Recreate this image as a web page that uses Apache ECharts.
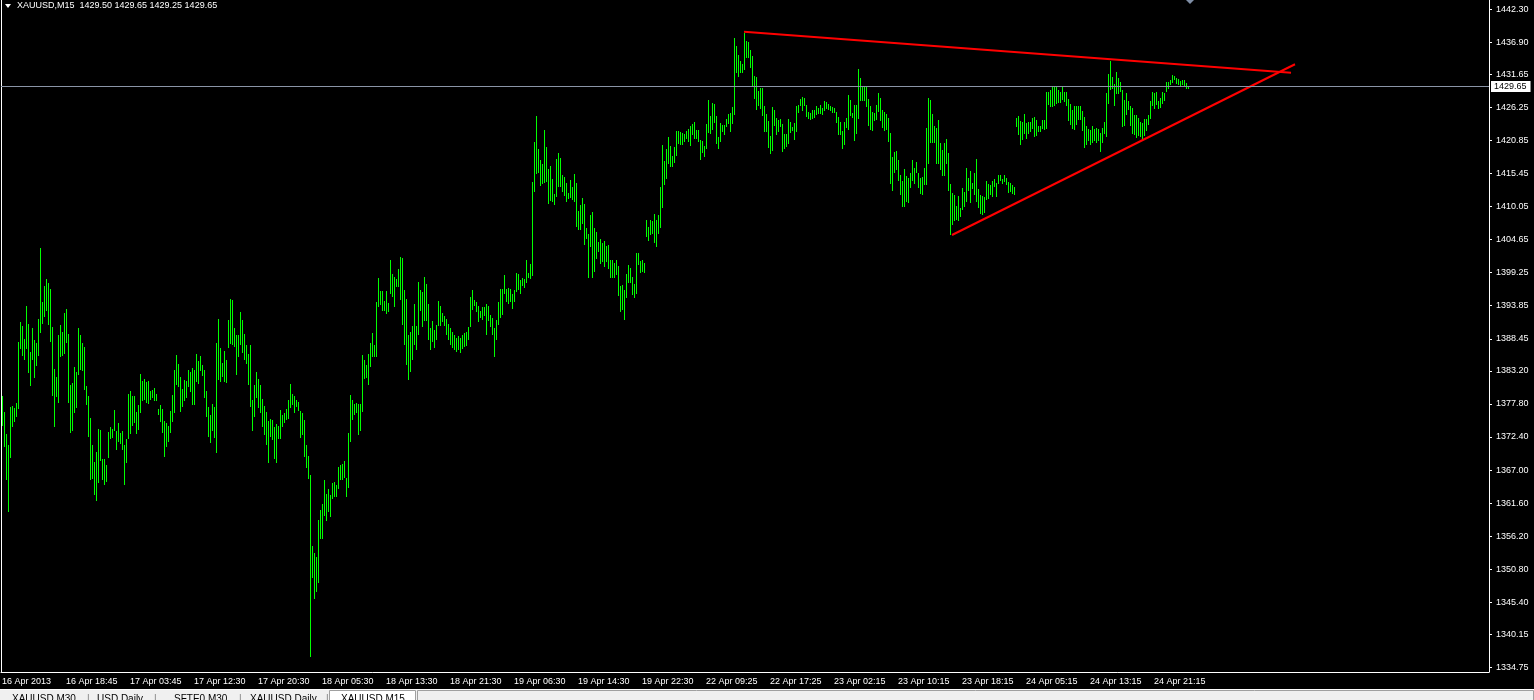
<!DOCTYPE html>
<html><head><meta charset="utf-8">
<script src="https://cdn.jsdelivr.net/npm/echarts@6/dist/echarts.min.js"></script>
<style>html,body{margin:0;padding:0;background:#000;overflow:hidden}#c{width:1534px;height:700px}</style>
</head><body><div id="c"></div>
<script>
const symbolTitle = 'XAUUSD,M15';
const lastBarOHLC = [1429.50, 1429.65, 1429.25, 1429.65];
const lastPrice = 1429.65;
const yMin = 1334.0, yMax = 1443.8;
const timeLabels = ['16 Apr 2013','16 Apr 18:45','17 Apr 03:45','17 Apr 12:30','17 Apr 20:30','18 Apr 05:30','18 Apr 13:30','18 Apr 21:30','19 Apr 06:30','19 Apr 14:30','19 Apr 22:30','22 Apr 09:25','22 Apr 17:25','23 Apr 02:15','23 Apr 10:15','23 Apr 18:15','24 Apr 05:15','24 Apr 13:15','24 Apr 21:15'];
const barsPerLabel = 32;
const totalSlots = 744;
const yTicks = [1442.30,1436.90,1431.65,1426.25,1420.85,1415.45,1410.05,1404.65,1399.25,1393.85,1388.45,1383.20,1377.80,1372.40,1367.00,1361.60,1356.20,1350.80,1345.40,1340.15,1334.75];
const highs = [
1379.1,1376.5,1372.9,1371.1,1377.3,1377.5,1377.1,1378.0,1387.9,1391.2,
1390.5,1388.4,1393.8,1390.9,1386.3,1390.2,1388.2,1387.8,1391.7,1403.3,
1394.5,1397.1,1398.2,1397.6,1396.6,1390.4,1383.5,1382.2,1389.1,1390.7,
1389.5,1392.7,1393.3,1389.2,1380.9,1381.2,1383.8,1383.0,1390.2,1389.1,
1387.8,1387.1,1380.7,1379.1,1375.5,1371.1,1368.3,1369.9,1373.7,1373.5,
1368.8,1368.8,1367.8,1373.2,1374.0,1373.7,1376.8,1373.4,1374.7,1373.0,
1373.4,1371.1,1372.1,1379.4,1379.9,1379.1,1379.1,1376.5,1377.6,1382.7,
1381.5,1381.9,1381.4,1381.5,1379.9,1380.1,1380.4,1379.4,1377.0,1377.6,
1377.0,1375.0,1374.7,1374.2,1376.6,1379.3,1383.3,1385.8,1384.3,1382.2,
1380.2,1381.7,1381.5,1383.3,1383.0,1383.7,1383.3,1386.0,1384.8,1385.6,
1384.2,1383.3,1379.9,1377.3,1376.0,1377.8,1377.3,1387.8,1391.7,1387.0,
1384.5,1386.4,1385.0,1391.5,1395.0,1394.8,1390.2,1389.1,1389.1,1392.8,
1391.5,1389.2,1387.4,1386.0,1387.4,1378.4,1380.9,1383.0,1381.9,1380.9,
1378.6,1377.5,1376.5,1375.0,1375.3,1375.2,1374.1,1374.6,1374.2,1376.8,
1376.0,1376.4,1377.0,1378.4,1381.1,1379.4,1379.1,1378.4,1378.1,1376.6,
1376.3,1375.1,1371.1,1369.3,1366.2,1354.6,1353.4,1352.8,1358.8,1360.5,
1361.4,1365.4,1363.1,1363.9,1362.9,1364.9,1365.0,1364.5,1367.5,1367.8,
1368.0,1368.5,1365.7,1373.0,1379.3,1378.4,1377.8,1378.0,1377.8,1377.8,
1385.8,1385.0,1384.2,1386.0,1387.8,1389.4,1387.4,1394.5,1398.4,1396.2,
1396.2,1394.6,1396.2,1394.3,1401.3,1399.0,1398.5,1398.2,1399.8,
1401.8,1401.6,1396.4,1394.9,1389.1,1389.6,1390.5,1394.1,1390.5,1397.7,
1396.4,1396.1,1398.5,1397.4,1394.1,1390.2,1391.3,1389.9,1390.7,1394.6,
1393.8,1392.7,1392.2,1391.7,1390.9,1390.2,1389.5,1389.1,1388.6,1388.9,
1388.6,1389.1,1389.4,1389.5,1390.4,1395.3,1396.4,1394.8,1394.5,1393.8,
1393.0,1393.6,1393.6,1394.1,1393.8,1392.3,1391.8,1390.2,1391.5,1394.5,
1396.6,1396.6,1398.9,1396.6,1396.7,1396.6,1395.8,1396.4,1399.2,1399.0,
1398.0,1398.4,1398.2,1401.3,1399.2,1400.7,1414.1,1420.6,1424.8,1419.5,
1417.7,1417.0,1422.6,1419.8,1416.2,1416.7,1414.6,1412.1,1417.8,1418.8,
1418.0,1415.2,1414.9,1413.9,1412.3,1414.4,1413.2,1415.4,1413.9,1409.3,
1410.3,1411.4,1410.5,1406.5,1405.6,1408.7,1409.2,1406.5,1405.9,1404.3,
1404.7,1404.1,1404.4,1403.6,1403.8,1401.3,1401.3,1400.8,1401.3,1400.3,
1397.1,1397.2,1396.4,1399.0,1400.5,1400.0,1398.5,1397.4,1402.5,1402.5,
1401.2,1401.3,1400.8,1407.9,1406.7,1407.9,1407.7,1408.8,1407.9,1408.7,
1413.2,1420.1,1417.5,1419.5,1421.4,1419.9,1418.3,1419.8,1422.4,1422.4,
1422.2,1422.1,1421.9,1422.4,1422.7,1423.2,1423.5,1423.9,1422.6,1422.6,
1420.9,1420.8,1419.9,1423.5,1427.5,1424.8,1427.0,1426.8,1424.8,1421.4,
1423.7,1423.4,1423.4,1424.4,1425.2,1425.3,1426.3,1437.6,1436.3,1434.8,
1433.8,1433.3,1438.4,1437.1,1436.9,1435.6,1434.6,1431.4,1431.2,1428.9,
1429.4,1429.4,1426.5,1425.2,1424.0,1421.6,1426.3,1425.8,1424.5,1424.2,
1424.4,1423.5,1421.9,1421.9,1424.4,1423.9,1423.0,1423.7,1426.5,1426.6,
1427.6,1428.0,1427.8,1426.6,1425.5,1425.3,1425.8,1425.8,1426.5,1426.2,
1426.6,1426.2,1427.3,1427.1,1426.8,1426.5,1426.3,1426.2,1425.5,1424.7,
1423.9,1422.4,1423.9,1424.5,1428.3,1427.5,1425.3,1426.6,1426.6,1432.5,
1431.1,1429.7,1429.6,1429.7,1427.6,1426.5,1425.5,1425.3,1426.6,1428.6,
1427.8,1425.8,1425.5,1425.2,1424.5,1422.1,1418.1,1419.0,1419.1,1417.7,
1415.2,1414.2,1416.2,1415.0,1414.7,1415.5,1417.7,1416.3,1417.3,1415.5,
1414.7,1414.9,1416.3,1422.9,1427.8,1427.5,1425.2,1423.2,1422.9,1424.2,
1420.4,1419.3,1420.4,1421.1,1418.8,1413.7,1412.3,1411.9,1410.1,1411.8,
1409.8,1413.1,1412.4,1416.3,1414.7,1415.9,1413.9,1415.5,1417.8,1412.9,
1411.9,1411.8,1411.6,1414.2,1413.7,1413.6,1414.2,1414.6,1413.9,1415.2,
1415.2,1414.6,1415.2,1414.7,1414.1,1413.9,1413.6,1413.2,1424.5,1424.8,
1424.0,1423.9,1425.2,1423.7,1423.9,1423.9,1424.5,1424.7,1424.2,1423.2,
1423.2,1424.2,1424.2,1428.8,1428.8,1429.1,1429.6,1429.7,1429.6,1429.1,
1428.8,1429.7,1428.8,1428.8,1427.6,1426.8,1425.8,1426.5,1426.5,1426.5,
1426.5,1425.7,1424.7,1423.2,1422.7,1422.6,1423.2,1422.7,1422.9,1422.7,
1422.1,1422.9,1423.9,1428.6,1431.7,1433.8,1431.2,1430.1,1432.0,1431.1,
1430.4,1429.1,1427.5,1428.6,1427.3,1426.5,1426.2,1425.0,1425.0,1424.5,
1423.9,1423.7,1424.4,1424.4,1425.0,1427.3,1428.8,1428.6,1428.8,1427.3,
1427.8,1428.8,1428.6,1430.4,1430.4,1430.7,1431.5,1431.4,1431.1,1430.9,
1430.6,1430.7,1430.7,1430.2,1429.65
];
const lows = [
1374.2,1370.8,1365.3,1360.2,1369.0,1374.1,1374.9,1375.7,1377.0,1386.8,
1385.7,1384.9,1386.8,1382.9,1380.8,1385.0,1382.1,1384.0,1385.7,1389.4,
1390.9,1392.0,1393.0,1390.7,1388.0,1379.1,1374.1,1379.0,1378.0,1385.5,
1385.7,1386.0,1387.8,1378.0,1373.1,1373.4,1376.4,1377.2,1382.6,1383.4,
1383.2,1380.0,1377.7,1372.4,1365.4,1365.6,1363.0,1362.0,1364.9,1368.5,
1365.3,1364.6,1365.1,1369.0,1372.1,1372.3,1373.3,1370.2,1371.6,1371.3,
1370.3,1364.6,1368.2,1372.0,1372.9,1374.2,1374.7,1372.9,1373.6,1376.4,
1378.3,1378.5,1378.0,1377.8,1378.5,1378.7,1378.3,1378.3,1376.0,1374.9,
1373.1,1369.2,1370.8,1371.5,1373.1,1374.9,1376.4,1380.9,1380.6,1376.5,
1377.3,1378.3,1378.8,1380.6,1379.8,1377.7,1377.7,1381.4,1381.1,1383.1,
1382.4,1378.8,1375.7,1372.4,1371.4,1373.3,1372.3,1369.8,1381.7,1381.4,
1382.2,1381.4,1381.3,1387.0,1387.6,1387.5,1387.1,1382.6,1385.4,1387.5,
1386.2,1384.9,1384.3,1380.9,1377.3,1373.3,1375.7,1378.8,1377.2,1376.3,
1374.0,1372.7,1371.1,1368.2,1372.4,1371.9,1368.8,1368.2,1372.1,1372.1,
1374.1,1374.7,1375.2,1375.4,1377.2,1377.7,1376.3,1377.3,1376.7,1372.3,
1372.8,1369.2,1367.4,1365.5,1336.5,1349.3,1345.9,1347.0,1348.6,1355.7,
1355.7,1359.5,1358.7,1360.1,1359.4,1362.3,1362.6,1362.6,1363.9,1365.4,
1365.4,1365.7,1362.6,1364.1,1371.6,1375.2,1376.0,1376.3,1372.8,1373.3,
1376.5,1381.8,1382.1,1380.9,1383.9,1385.5,1385.5,1385.5,1393.7,1393.9,
1393.0,1393.0,1392.5,1392.8,1395.8,1395.3,1393.7,1396.9,1396.9,
1394.8,1390.7,1387.4,1384.2,1381.7,1383.0,1385.0,1387.4,1386.6,1389.1,
1393.0,1390.4,1391.3,1391.3,1388.2,1386.6,1387.9,1386.9,1388.2,1390.5,
1390.5,1391.2,1390.5,1389.1,1388.2,1387.4,1386.9,1386.6,1386.3,1386.6,
1386.1,1386.8,1387.1,1387.3,1388.2,1390.4,1393.1,1393.8,1392.8,1391.2,
1391.8,1391.5,1392.2,1389.1,1391.3,1390.4,1389.1,1385.5,1388.2,1390.7,
1391.8,1392.3,1395.8,1394.5,1394.1,1394.5,1393.3,1394.5,1396.1,1396.4,
1395.8,1397.1,1396.7,1397.6,1398.4,1398.2,1398.7,1412.4,1415.4,1415.5,
1413.4,1413.7,1413.9,1414.1,1410.5,1411.0,1410.8,1410.3,1411.6,1413.2,
1413.2,1412.4,1411.8,1410.8,1411.3,1411.4,1411.1,1410.8,1406.7,1406.2,
1406.2,1407.2,1403.8,1404.7,1398.4,1403.4,1398.4,1399.4,1401.5,1402.6,
1400.7,1401.0,1400.2,1401.0,1399.8,1398.4,1398.4,1398.4,1398.9,1395.4,
1392.8,1393.1,1391.5,1395.1,1397.6,1397.6,1395.6,1395.1,1395.8,1400.5,
1399.2,1399.4,1399.2,1405.1,1404.4,1405.4,1405.6,1404.1,1403.4,1405.6,
1406.5,1409.8,1413.6,1414.6,1417.0,1416.5,1416.5,1417.2,1418.3,1420.3,
1420.1,1420.1,1420.6,1421.1,1420.6,1419.9,1421.7,1421.1,1421.1,1420.6,
1417.7,1418.8,1418.1,1419.5,1422.1,1421.9,1422.6,1423.7,1420.3,1419.5,
1420.6,1422.2,1421.7,1423.0,1423.5,1422.2,1423.5,1425.0,1431.9,1431.2,
1431.9,1431.9,1432.4,1434.3,1434.3,1432.7,1429.6,1427.6,1425.8,1426.5,
1426.0,1424.8,1422.2,1422.2,1419.6,1418.6,1419.1,1423.2,1421.7,1422.2,
1423.0,1419.0,1419.5,1419.8,1420.3,1422.1,1422.4,1420.9,1422.2,1425.3,
1426.5,1425.7,1426.5,1424.7,1424.4,1424.2,1424.4,1424.5,1425.0,1425.2,
1425.2,1425.0,1425.7,1426.0,1425.8,1425.7,1425.3,1425.3,1423.7,1421.7,
1421.7,1419.5,1420.1,1422.9,1422.6,1424.8,1424.5,1420.8,1421.9,1424.4,
1427.3,1427.3,1427.3,1426.3,1423.2,1422.6,1422.4,1424.0,1424.2,1425.5,
1424.0,1422.9,1422.4,1422.6,1420.6,1413.7,1412.6,1415.5,1416.0,1414.2,
1411.9,1410.0,1410.0,1410.8,1410.6,1413.1,1414.2,1413.7,1415.5,1413.1,
1412.1,1411.9,1413.6,1413.6,1417.0,1420.4,1420.4,1420.4,1417.0,1417.0,
1416.0,1415.0,1415.0,1417.0,1412.6,1405.4,1407.0,1407.7,1407.9,1407.7,
1408.3,1409.5,1410.0,1410.8,1412.6,1410.6,1412.9,1411.9,1410.8,1409.8,
1408.8,1408.7,1409.0,1411.1,1411.3,1411.9,1411.6,1413.2,1411.6,1413.7,
1414.2,1413.7,1414.1,1413.6,1412.3,1412.4,1412.1,1411.9,1423.0,1421.7,
1420.1,1420.9,1421.9,1421.1,1421.9,1422.2,1422.7,1421.4,1421.6,1422.2,
1422.2,1422.7,1422.6,1422.7,1426.6,1426.3,1426.3,1426.5,1426.8,1427.0,
1427.0,1427.5,1427.1,1426.5,1424.0,1423.4,1422.7,1422.6,1423.4,1424.2,
1424.2,1422.4,1419.6,1420.1,1420.8,1420.1,1420.4,1420.8,1420.4,1420.8,
1419.0,1420.4,1421.9,1421.4,1426.8,1429.1,1429.3,1426.5,1428.4,1428.4,
1428.8,1423.0,1423.2,1425.0,1425.8,1423.2,1421.9,1421.7,1421.2,1421.6,
1421.4,1421.1,1421.6,1422.4,1423.4,1424.4,1426.5,1426.0,1426.6,1426.0,
1426.2,1426.8,1427.3,1428.8,1429.3,1429.9,1430.2,1430.7,1430.1,1429.9,
1429.6,1429.9,1429.6,1429.3,1429.25
];
const upperTrend = [[371, 1438.6], [644.5, 1431.9]];
const lowerTrend = [[475, 1405.4], [646.5, 1433.3]];
const tabNames = ['XAUUSD,M30', '|', 'USD,Daily', '|', 'SFTE0,M30', '|', 'XAUUSD,Daily', '|', 'XAUUSD,M15'];

const FONT = '"Liberation Sans", Arial, sans-serif';
const categories = [];
for (let i = 0; i < totalSlots; i++) {
  categories.push(i % barsPerLabel === 0 && i / barsPerLabel < timeLabels.length ? timeLabels[i / barsPerLabel] : '');
}
const bars = highs.map((h, i) => [i, h, lows[i]]);
const showTick = (idx, val) => val !== '';

const tabX = [12, 87, 97, 154, 174, 239, 250, 326, 341];
const tabGraphics = [
  {type:'rect', shape:{x:0, y:689, width:1534, height:11}, style:{fill:'#f0f0f0'}, silent:true},
  {type:'line', shape:{x1:0, y1:689.5, x2:1534, y2:689.5}, style:{stroke:'#ffffff', lineWidth:1}, silent:true},
  {type:'rect', shape:{x:329.5, y:690.5, width:86, height:12}, style:{fill:'#ffffff', stroke:'#a0a0a0', lineWidth:1}, silent:true},
  {type:'rect', shape:{x:417.5, y:690.5, width:1116, height:12}, style:{fill:'#f0f0f0', stroke:'#a0a0a0', lineWidth:1}, silent:true}
];
tabNames.forEach((t, k) => {
  tabGraphics.push({type:'text', x:tabX[k], y:694, silent:true,
    style:{text:t, fill: t === '|' ? '#808080' : '#000', font:'10px ' + FONT, textVerticalAlign:'top'}});
});

const chart = echarts.init(document.getElementById('c'), null, {renderer:'canvas'});
chart.setOption({
  backgroundColor:'#000000',
  animation:false,
  grid:{left:1, right:45, top:0, bottom:28, containLabel:false, outerBoundsMode:'none'},
  xAxis:[{
    type:'category', data:categories, boundaryGap:true, position:'bottom',
    axisLine:{onZero:false, lineStyle:{color:'#ffffff', width:1}},
    axisTick:{interval:showTick, alignWithLabel:true, length:3, lineStyle:{color:'#ffffff'}},
    axisLabel:{interval:showTick, color:'#ffffff', fontSize:9, fontFamily:FONT, align:'left', margin:5},
    splitLine:{show:false}
  },{
    type:'value', min:-0.5, max:totalSlots - 0.5, show:false,
    axisLine:{show:false, onZero:false}, axisTick:{show:false}, axisLabel:{show:false}, splitLine:{show:false}
  }],
  yAxis:[{
    type:'value', position:'right', min:yMin, max:yMax,
    axisLine:{show:true, onZero:false, lineStyle:{color:'#ffffff', width:1}},
    axisTick:{show:true, inside:false, length:3, customValues:yTicks, lineStyle:{color:'#ffffff'}},
    axisLabel:{customValues:yTicks, color:'#ffffff', fontSize:9, fontFamily:FONT, margin:7,
      formatter:v => Number(v).toFixed(2)},
    splitLine:{show:false}, minorTick:{show:false}
  }],
  series:[{
    type:'custom', xAxisIndex:0, yAxisIndex:0, data:bars, clip:true,
    encode:{x:0, y:[1,2]},
    renderItem:function(params, api){
      const i = api.value(0);
      const hi = api.coord([i, api.value(1)]);
      const lo = api.coord([i, api.value(2)]);
      const x = Math.round(hi[0]);
      const y1 = Math.round(hi[1]);
      const y2 = Math.max(Math.round(lo[1]), y1 + 1);
      return {type:'rect', shape:{x:x, y:y1, width:1, height:y2 - y1}, style:{fill:'#00ff00'}};
    },
    markLine:{
      silent:true, symbol:['none','none'], animation:false,
      data:[{yAxis:lastPrice}],
      lineStyle:{color:'#8a94a6', width:1, type:'solid'},
      label:{show:true, position:'end', distance:2, formatter:p => Number(p.value).toFixed(2),
        backgroundColor:'#ffffff', color:'#000000', fontSize:9, fontFamily:FONT, padding:[1,4,1,3]}
    },
    z:2
  },{
    type:'line', xAxisIndex:1, yAxisIndex:0, data:upperTrend, symbol:'none',
    lineStyle:{color:'#ff0000', width:2}, z:3, silent:true
  },{
    type:'line', xAxisIndex:1, yAxisIndex:0, data:lowerTrend, symbol:'none',
    lineStyle:{color:'#ff0000', width:2}, z:3, silent:true
  }],
  graphic:[
    {type:'line', shape:{x1:1.5, y1:0, x2:1.5, y2:672}, style:{stroke:'#ffffff', lineWidth:1}, silent:true},
    {type:'polygon', shape:{points:[[5,4],[11,4],[8,8]]}, style:{fill:'#ffffff'}, silent:true},
    {type:'text', x:17, y:1, silent:true,
      style:{text:symbolTitle + '  ' + lastBarOHLC.map(v => v.toFixed(2)).join(' '), fill:'#ffffff', font:'9px ' + FONT, textVerticalAlign:'top'}},
    {type:'polygon', shape:{points:[[1186,0],[1194,0],[1190,4]]}, style:{fill:'#7f8ea6'}, silent:true}
  ].concat(tabGraphics)
});
</script>
</body></html>
